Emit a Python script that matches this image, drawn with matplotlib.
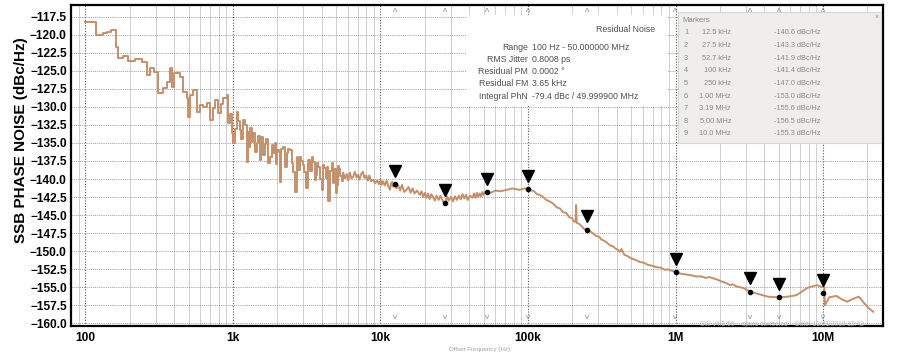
import matplotlib
matplotlib.use('Agg')
import matplotlib.pyplot as plt
import matplotlib.ticker as ticker
from matplotlib.transforms import offset_copy, blended_transform_factory
import numpy as np

plt.rcParams['font.family'] = ['Liberation Sans', 'DejaVu Sans']

# trace (Hz, dBc/Hz)
freq = [100, 118, 131, 140, 150, 161, 166, 180, 194, 216, 241, 260, 274, 291,
        310, 336, 355, 374, 386, 400, 437, 457, 487, 496, 510, 536, 567, 597,
        630, 663, 700, 730, 754, 790, 830, 857, 905, 925, 960, 985,
        1000, 1030, 1060, 1090, 1110, 1140, 1170, 1200, 1240, 1260, 1280, 1310,
        1340, 1370, 1400, 1450, 1480, 1520, 1560, 1600, 1640, 1680, 1720, 1780,
        1830, 1870, 1920, 1960, 2000, 2040, 2080, 2130, 2180, 2240, 2310, 2370,
        2430, 2500, 2570, 2630, 2700, 2760, 2840, 2900, 2980, 3050, 3150, 3250,
        3350, 3420, 3500, 3580, 3650, 3720, 3800, 3900, 4010, 4080, 4150, 4250,
        4350, 4430, 4550, 4660, 4750, 4850, 4970, 5050, 5160, 5250, 5350, 5450,
        5600,
        5750, 5900, 6050, 6200, 6350, 6540, 6700, 6900, 7050, 7200, 7400, 7600,
        7800, 8000, 8200, 8400, 8650, 8940, 9200, 9500, 9750,
        10e3, 10.2e3, 10.4e3, 10.7e3, 11e3, 11.3e3, 11.6e3, 11.8e3, 12e3, 12.2e3,
        12.5e3, 12.8e3, 13.2e3, 13.6e3, 14e3, 14.5e3, 15e3, 15.5e3, 16e3, 16.5e3,
        17e3, 17.7e3, 18.5e3, 19e3, 19.5e3, 20e3, 20.5e3, 21e3, 21.5e3, 22.1e3,
        22.6e3, 23.3e3, 24e3, 24.8e3, 25.5e3, 26.5e3, 27.5e3, 28.2e3, 29e3, 30e3,
        31e3, 32e3, 33e3, 34e3, 35e3, 36e3, 37e3, 38e3, 39e3, 40.5e3, 42e3, 43e3,
        44e3, 45e3, 46e3, 47e3, 48e3, 49e3, 50e3, 51e3, 52.7e3,
        56e3, 60e3, 65e3, 71.8e3, 78e3, 87.6e3, 95e3,
        100e3, 110e3, 115e3, 120e3, 127e3, 133e3, 140e3, 148e3, 156e3, 165e3,
        173e3, 182e3, 190e3, 198e3, 205e3, 210e3, 212e3, 214e3, 222e3, 230e3,
        240e3, 250e3, 262e3, 275e3, 290e3, 304e3, 315e3, 325e3, 342e3, 360e3,
        375e3, 390e3, 405e3, 418e3, 430e3, 450e3, 475e3, 500e3, 535e3, 574e3,
        610e3, 650e3, 690e3, 738e3, 800e3, 850e3, 880e3, 940e3,
        1.0e6, 1.07e6, 1.15e6, 1.25e6, 1.38e6, 1.5e6, 1.6e6, 1.7e6, 1.83e6,
        1.95e6, 2.05e6, 2.2e6, 2.34e6, 2.45e6, 2.6e6, 2.75e6, 2.88e6, 3.0e6,
        3.19e6, 3.6e6, 4.2e6, 5.0e6, 5.8e6, 6.6e6, 7.2e6, 7.8e6, 8.4e6, 9.1e6,
        9.6e6, 10.2e6, 10.3e6, 11e6, 12.3e6, 13.5e6, 14.6e6, 16e6, 17.5e6,
        19e6, 20.4e6, 21.9e6]
pn = [-118.2, -120.0, -119.8, -119.6, -119.4, -121.7, -123.2, -123.0, -123.6,
      -123.4, -123.8, -125.6, -124.6, -125.2, -128.1, -127.4, -126.5, -124.6,
      -127.2, -125.3, -125.9, -127.9, -128.8, -131.4, -128.4, -127.7, -130.7,
      -129.7, -130.0, -129.5, -131.8, -130.2, -129.0, -130.9, -129.6, -128.8,
      -128.4, -132.3, -131.0, -133.6,
      -135.0, -133.0, -130.7, -132.0, -133.2, -134.5, -131.8, -132.5, -137.6,
      -133.5, -135.5, -132.9, -134.8, -133.6, -136.2, -135.0, -134.0, -137.4,
      -134.2, -136.7, -135.2, -134.5, -137.8, -136.9, -135.3, -136.4, -135.0,
      -137.9, -136.0, -136.3, -140.4, -135.8, -135.6, -138.3, -136.4, -135.8,
      -136.0, -137.8, -139.0, -141.8, -137.0, -138.8, -136.9, -137.5, -138.0,
      -139.0, -141.3, -137.3, -138.9, -137.0, -137.6, -140.2, -139.5, -137.8,
      -138.3, -140.0, -141.5, -138.0, -138.5, -139.8, -138.3, -143.1, -138.9,
      -137.8, -140.5, -138.6, -142.0, -140.8, -138.2, -138.6, -139.6, -140.3,
      -139.2,
      -139.9, -139.3, -140.2, -139.1, -139.9, -139.7, -139.0, -139.8, -139.4,
      -140.1, -139.3, -139.0, -139.9, -139.5, -140.2, -139.5, -140.3, -140.1,
      -140.6, -140.2, -140.7,
      -140.1, -140.8, -140.3, -140.9, -140.2, -141.0, -141.5, -140.6, -140.4,
      -141.1, -140.7, -141.3, -140.9, -141.6, -140.8, -141.8, -141.5, -141.1,
      -141.9, -141.3, -142.0, -141.6, -142.2, -141.7, -142.5, -141.9, -142.6,
      -142.0, -142.8, -142.1, -142.4, -143.0, -142.3, -142.9, -142.3, -143.1,
      -143.3, -142.4, -143.0, -142.5, -143.1, -142.4, -142.9, -142.3, -142.8,
      -142.1, -142.7, -142.2, -142.9, -142.3, -142.6, -142.0, -142.6, -141.9,
      -142.5, -142.0, -142.4, -141.8, -142.2, -141.8, -141.8,
      -141.9, -141.6, -141.7, -141.5, -141.3, -141.5, -141.3,
      -141.4, -141.7, -142.1, -142.2, -142.5, -142.9, -143.1, -143.4, -143.9,
      -144.1, -144.6, -144.7, -145.3, -145.4, -145.9, -145.9, -143.6, -146.1,
      -146.2, -146.5, -146.9, -147.1, -147.2, -147.5, -147.9, -148.0, -148.4,
      -148.5, -148.8, -149.2, -149.3, -149.6, -149.8, -150.1, -149.7, -150.5,
      -150.7, -151.0, -151.2, -151.5, -151.6, -151.9, -152.0, -152.2, -152.3,
      -152.6, -152.5, -152.7,
      -152.85, -153.1, -153.2, -153.3, -153.5, -153.5, -153.7, -153.6, -153.8,
      -154.0, -154.2, -154.4, -154.7, -154.6, -154.9, -155.0, -155.1, -155.3,
      -155.6, -155.9, -156.3, -156.4, -156.3, -156.1, -155.6, -155.1, -154.9,
      -154.7, -154.9, -155.0, -157.5, -156.4, -156.2, -156.7, -157.0, -156.6,
      -156.3, -157.2, -157.9, -158.4]

marker_freq = [12.5e3, 27.5e3, 52.7e3, 100e3, 250e3, 1.0e6, 3.19e6, 5.0e6, 10.0e6]
marker_pn = [-140.7, -143.3, -141.8, -141.4, -147.0, -152.9, -155.6, -156.4, -155.8]

marker_ids = ['1', '2', '3', '4', '5', '6', '7', '8', '9']
marker_freq_txt = ['12.5 kHz', '27.5 kHz', '52.7 kHz', '100 kHz', '250 kHz',
                   '1.00 MHz', '3.19 MHz', '5.00 MHz', '10.0 MHz']
marker_val_txt = ['-140.6 dBc/Hz', '-143.3 dBc/Hz', '-141.9 dBc/Hz',
                  '-141.4 dBc/Hz', '-147.0 dBc/Hz', '-153.0 dBc/Hz',
                  '-155.6 dBc/Hz', '-156.5 dBc/Hz', '-155.3 dBc/Hz']

res_labels = ['Range', 'RMS Jitter', 'Residual PM', 'Residual FM', 'Integral PhN']
res_values = ['100 Hz - 50.000000 MHz', '0.8008 ps', '0.0002 °', '3.65 kHz',
              '-79.4 dBc / 49.999900 MHz']

x_ticks = [100, 1e3, 1e4, 1e5, 1e6, 1e7]
x_labels = ['100', '1k', '10k', '100k', '1M', '10M']
y_ticks = np.arange(-160.0, -117.4, 2.5)

W, H = 899, 354
fig = plt.figure(figsize=(W / 100, H / 100), dpi=100)
ax = fig.add_axes([71 / W, 1 - 326 / H, 812 / W, 321 / H])

def fx(px):
    return px / W

def fy(py):
    return 1 - py / H

freq = np.array(freq)
pn = np.array(pn)
k = list(freq).index(5600)
trace_col = '#c4906c'
ax.plot(freq[:k + 1], pn[:k + 1], drawstyle='steps-post', color=trace_col, lw=1.4)
ax.plot(freq[k:], pn[k:], color=trace_col, lw=1.4)

ax.set_xscale('log')
ax.set_xlim(79.8, 25.5e6)
ax.set_ylim(-160.37, -115.88)

ax.set_xticks(x_ticks)
ax.set_xticklabels(x_labels)
ax.xaxis.set_minor_locator(ticker.LogLocator(base=10, subs=np.arange(2, 10)))
ax.xaxis.set_minor_formatter(ticker.NullFormatter())
ax.set_yticks(y_ticks)
ax.yaxis.set_major_formatter(ticker.FuncFormatter(lambda v, p: ('%.1f' % v).replace('-', '\u2212')))
ax.tick_params(which='both', length=0)
ax.tick_params(axis='y', pad=3)
ax.tick_params(axis='x', pad=4)
for lab in ax.get_xticklabels() + ax.get_yticklabels():
    lab.set_fontweight('bold')
    lab.set_fontsize(8.6)

ax.grid(True, which='minor', axis='x', color='#cfcfcf', lw=0.7)
ax.grid(True, which='major', axis='x', color='#555555', lw=0.8, ls=(0, (1, 1.5)))
ax.grid(True, which='major', axis='y', color='#9a9a9a', lw=0.7, ls=(0, (1, 1.2)))
ax.set_axisbelow(True)
for s in ax.spines.values():
    s.set_linewidth(1.6)
    s.set_color('black')

ax.set_ylabel('SSB PHASE NOISE (dBc/Hz)', fontsize=11, fontweight='bold')
ax.yaxis.set_label_coords(-0.053, 0.58)

# markers: dots, black triangles above, small carets top and bottom
ax.plot(marker_freq, marker_pn, 'o', color='black', ms=3, zorder=5)
tri = offset_copy(ax.transData, fig=fig, y=9.5, units='points')
ax.plot(marker_freq, marker_pn, 'v', color='black', ms=9, transform=tri, zorder=5)
bt = blended_transform_factory(ax.transData, ax.transAxes)
for f in marker_freq:
    ax.text(f, 0.995, '\u028c', transform=bt, ha='center', va='top', fontsize=6, color='#8a8a8a')
    ax.text(f, 0.015, 'v', transform=bt, ha='center', va='bottom', fontsize=6, color='#8a8a8a')

# residual noise box
fig.patches.append(plt.Rectangle((fx(466), fy(106)), fx(668) - fx(466), fy(15) - fy(106),
                                 transform=fig.transFigure, facecolor='white', edgecolor='none', zorder=3))
tc = '#505050'
fig.text(fx(655), fy(29), 'Residual Noise', ha='right', va='center', fontsize=6.3, color=tc, zorder=4)
for i, (lab, val) in enumerate(zip(res_labels, res_values)):
    py = 47 + i * 12.3
    fig.text(fx(528), fy(py), lab, ha='right', va='center', fontsize=6.3, color=tc, zorder=4)
    fig.text(fx(532), fy(py), val, ha='left', va='center', fontsize=6.3, color=tc, zorder=4)

# markers table
fig.patches.append(plt.Rectangle((fx(678), fy(143)), fx(881) - fx(678), fy(12) - fy(143),
                                 transform=fig.transFigure, facecolor='#f0eeeb', edgecolor='#d8d6d2',
                                 lw=0.8, zorder=3))
mc = '#8a8a8a'
fig.text(fx(682), fy(20), 'Markers', ha='left', va='center', fontsize=5.5, color=mc, zorder=4)
fig.text(fx(877), fy(17), '\u00d7', ha='center', va='center', fontsize=5, color=mc, zorder=4)
for i, (n, ft, vt) in enumerate(zip(marker_ids, marker_freq_txt, marker_val_txt)):
    py = 33 + i * 12.6
    fig.text(fx(684), fy(py), n, ha='left', va='center', fontsize=5.3, color=mc, zorder=4)
    fig.text(fx(731), fy(py), ft, ha='right', va='center', fontsize=5.3, color=mc, zorder=4)
    fig.text(fx(774), fy(py), vt, ha='left', va='center', fontsize=5.3, color=mc, zorder=4)

# faint footer texts
fig.text(fx(700), fy(324), 'SW v4.2.50    spurs corrected    Date: 12/21/2019 12:42',
         ha='left', va='center', fontsize=4.8, color='#bdbdbd')
fig.text(fx(480), fy(350), 'Offset Frequency (Hz)', ha='center', va='center', fontsize=4.5, color='#a0a0a0')

fig.savefig('out.png', dpi=100)
